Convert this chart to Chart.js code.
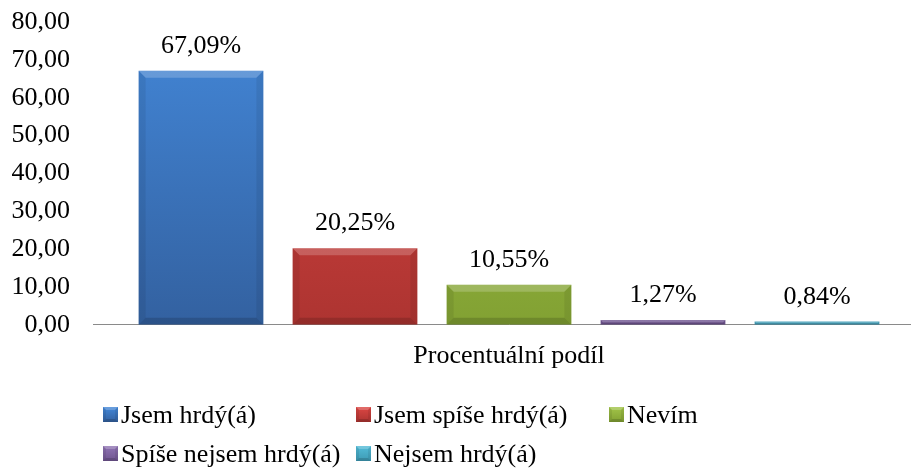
<!DOCTYPE html>
<html>
<head>
<meta charset="utf-8">
<script src="https://cdn.jsdelivr.net/npm/chart.js@4/dist/chart.umd.min.js"></script>
<style>
    html, body { margin: 0; padding: 0; background: #fff; overflow: hidden; }
    #wrap { position: relative; width: 911px; height: 470px; overflow: hidden; }
    #box { position: absolute; left: 0; top: 0; width: 930px; height: 470px; }
</style>
</head>
<body>
<div id="wrap">
    <div id="box"><canvas id="chart"></canvas></div>
</div>
<script>
// Data
const categories = ['Procentuální podíl'];
const seriesNames = ['Jsem hrdý(á)', 'Jsem spíše hrdý(á)', 'Nevím', 'Spíše nejsem hrdý(á)', 'Nejsem hrdý(á)'];
const seriesValues = [67.09, 20.25, 10.55, 1.27, 0.84];
const yTicks = [0, 10, 20, 30, 40, 50, 60, 70, 80];

// colours: [top, bottom]
const barColors = [
    ['#4387d8', '#3361a0'],
    ['#dc4643', '#ad3431'],
    ['#a2c548', '#82a133'],
    ['#9074b4', '#6f5490'],
    ['#52bcd8', '#3e9ab4']
];

const serif = "'Liberation Serif', 'Times New Roman', serif";

function fmt(v) {
    return v.toFixed(2).replace('.', ',');
}

// draws the bevel edges over a rectangle
function bevel(ctx, l, t, r, b, d) {
    ctx.fillStyle = 'rgba(255,255,255,0.2)';
    ctx.beginPath();
    ctx.moveTo(l, t); ctx.lineTo(r, t); ctx.lineTo(r - d, t + d); ctx.lineTo(l + d, t + d);
    ctx.closePath(); ctx.fill();
    ctx.fillStyle = 'rgba(0,0,0,0.07)';
    ctx.beginPath();
    ctx.moveTo(l, t); ctx.lineTo(l + d, t + d); ctx.lineTo(l + d, b - d); ctx.lineTo(l, b);
    ctx.closePath(); ctx.fill();
    ctx.beginPath();
    ctx.moveTo(r, t); ctx.lineTo(r - d, t + d); ctx.lineTo(r - d, b - d); ctx.lineTo(r, b);
    ctx.closePath(); ctx.fill();
    ctx.fillStyle = 'rgba(0,0,0,0.15)';
    ctx.beginPath();
    ctx.moveTo(l, b); ctx.lineTo(l + d, b - d); ctx.lineTo(r - d, b - d); ctx.lineTo(r, b);
    ctx.closePath(); ctx.fill();
}

// Bevel look like the office chart
const bevelPlugin = {
    id: 'bevel',
    afterDatasetsDraw(chart) {
        const ctx = chart.ctx;
        chart.data.datasets.forEach((ds, i) => {
            chart.getDatasetMeta(i).data.forEach(bar => {
                const p = bar.getProps(['x', 'y', 'base', 'width'], true);
                ctx.save();
                bevel(ctx, p.x - p.width / 2, p.y, p.x + p.width / 2, p.base, Math.min(7, (p.base - p.y) / 2));
                ctx.restore();
            });
        });
    }
};

// Value labels above the bars
const valueLabels = {
    id: 'valueLabels',
    afterDatasetsDraw(chart) {
        const ctx = chart.ctx;
        ctx.save();
        ctx.font = '26px ' + serif;
        ctx.fillStyle = '#000';
        ctx.textAlign = 'center';
        ctx.textBaseline = 'alphabetic';
        chart.data.datasets.forEach((ds, i) => {
            chart.getDatasetMeta(i).data.forEach((bar, j) => {
                ctx.fillText(fmt(ds.data[j]) + '%', bar.x, bar.y - 18);
            });
        });
        ctx.restore();
    }
};

// Legend in a fixed column grid, like the office one
const gridLegend = {
    id: 'gridLegend',
    afterDraw(chart) {
        const ctx = chart.ctx;
        ctx.save();
        ctx.font = '26px ' + serif;
        ctx.textBaseline = 'alphabetic';
        ctx.textAlign = 'left';
        chart.data.datasets.forEach((ds, i) => {
            const x = 103 + (i % 3) * 253;
            const y = 423 + Math.floor(i / 3) * 39;
            const g = ctx.createLinearGradient(0, y - 16, 0, y - 1);
            g.addColorStop(0, barColors[i][0]);
            g.addColorStop(1, barColors[i][1]);
            ctx.fillStyle = g;
            ctx.fillRect(x, y - 16, 15, 15);
            bevel(ctx, x, y - 16, x + 15, y - 1, 3);
            ctx.fillStyle = '#000';
            ctx.fillText(ds.label, x + 18, y);
        });
        ctx.restore();
    }
};

const datasets = seriesNames.map((name, i) => ({
    label: name,
    data: [seriesValues[i]],
    backgroundColor: function (c) {
        const area = c.chart.chartArea;
        if (!area) return barColors[i][0];
        const el = c.element;
        const top = el && el.y !== undefined ? el.y : area.top;
        const g = c.chart.ctx.createLinearGradient(0, top, 0, area.bottom);
        g.addColorStop(0, barColors[i][0]);
        g.addColorStop(1, barColors[i][1]);
        return g;
    },
    borderWidth: 0,
    categoryPercentage: 0.9255,
    barPercentage: 0.81
}));

const ctx = document.getElementById('chart').getContext('2d');
const chart = new Chart(ctx, {
    type: 'bar',
    data: { labels: categories, datasets: datasets },
    options: {
        responsive: true,
        maintainAspectRatio: false,
        animation: false,
        layout: { padding: { top: 22, left: 12, right: 5, bottom: 94 } },
        scales: {
            x: {
                grid: { display: false, drawTicks: false },
                border: { display: true, color: '#8a8a8a', width: 1 },
                ticks: { display: false },
                title: {
                    display: true,
                    text: categories[0],
                    color: '#000',
                    font: { family: serif, size: 26 },
                    padding: { top: 16, bottom: 4 }
                }
            },
            y: {
                min: 0,
                max: 80,
                afterBuildTicks: s => { s.ticks = yTicks.map(v => ({ value: v })); },
                afterFit: s => {
                    s.width = 81;
                    s.paddingTop = 0;
                    s.paddingBottom = 0;
                },
                grid: { display: false, drawTicks: false },
                border: { display: false },
                ticks: {
                    color: '#000',
                    padding: 23,
                    font: { family: serif, size: 26 },
                    callback: v => fmt(v)
                }
            }
        },
        plugins: {
            legend: { display: false },
            tooltip: { enabled: false }
        }
    },
    plugins: [bevelPlugin, valueLabels, gridLegend]
});
</script>
</body>
</html>
